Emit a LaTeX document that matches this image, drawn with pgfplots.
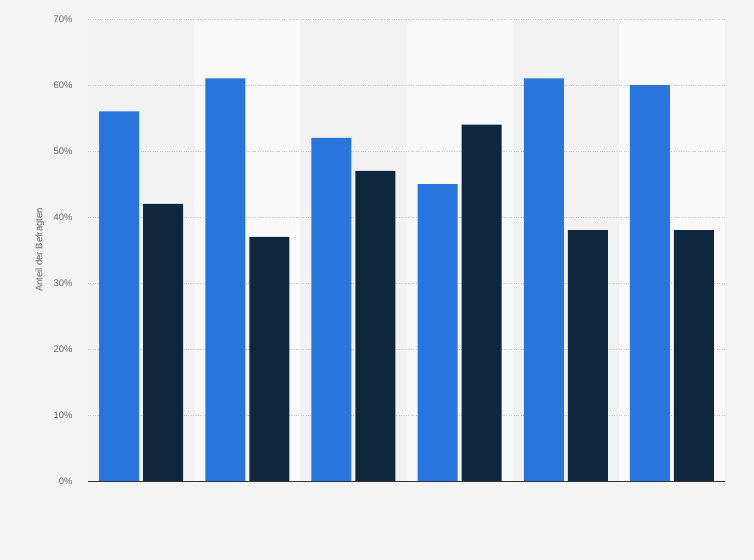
\documentclass[border=0pt]{standalone}
\usepackage{pgfplots}
\pgfplotsset{compat=1.18}
\usepackage{fontspec}
\setmainfont{Liberation Sans}
\definecolor{bg}{HTML}{F4F4F4}
\definecolor{bandA}{HTML}{F2F2F2}
\definecolor{bandB}{HTML}{F9F9F9}
\definecolor{cblue}{HTML}{2876DD}
\definecolor{cdark}{HTML}{0F263D}
\definecolor{tick}{HTML}{666666}
\definecolor{gridc}{HTML}{C8C8C8}
\pgfplotsset{base/.style={
  at={(88bp,79bp)}, anchor=south west,
  scale only axis, width=637bp, height=462bp,
  xmin=-0.5, xmax=5.5, ymin=0, ymax=70,
  axis line style={draw=none},
  xtick=\empty, major tick length=0pt, clip=false}}
\begin{document}
\begin{tikzpicture}
\useasboundingbox (0,0) rectangle (754bp,560bp);
\fill[bg] (0,0) rectangle (754bp,560bp);
\begin{axis}[base, ytick=\empty]
\fill[bandA] (axis cs:-0.5,0) rectangle (axis cs:0.5,70);
\fill[bandB] (axis cs:0.5,0) rectangle (axis cs:1.5,70);
\fill[bandA] (axis cs:1.5,0) rectangle (axis cs:2.5,70);
\fill[bandB] (axis cs:2.5,0) rectangle (axis cs:3.5,70);
\fill[bandA] (axis cs:3.5,0) rectangle (axis cs:4.5,70);
\fill[bandB] (axis cs:4.5,0) rectangle (axis cs:5.5,70);
\end{axis}
\begin{axis}[
  base,
  ybar=4bp, bar width=40bp,
  ytick={0,10,20,30,40,50,60,70},
  yticklabel={\pgfmathprintnumber{\tick}\%},
  /pgf/number format/assume math mode=true,
  ymajorgrids, grid style={gridc, dotted, line width=0.6pt},
  yticklabel style={font=\fontsize{9.5}{11}\selectfont, text=tick, xshift=-12bp},
  ylabel={Anteil der Befragten},
  every axis y label/.style={at={(axis description cs:-0.0754,0.5)}, rotate=90, anchor=center, font=\fontsize{9.5}{11}\selectfont, text=tick},
]
\addplot[fill=cblue, draw=none] coordinates {(0,56) (1,61) (2,52) (3,45) (4,61) (5,60)};
\addplot[fill=cdark, draw=none] coordinates {(0,42) (1,37) (2,47) (3,54) (4,38) (5,38)};
\draw[black!80, line width=0.8pt] (axis cs:-0.5,0) -- (axis cs:5.5,0);
\end{axis}
\end{tikzpicture}
\end{document}
